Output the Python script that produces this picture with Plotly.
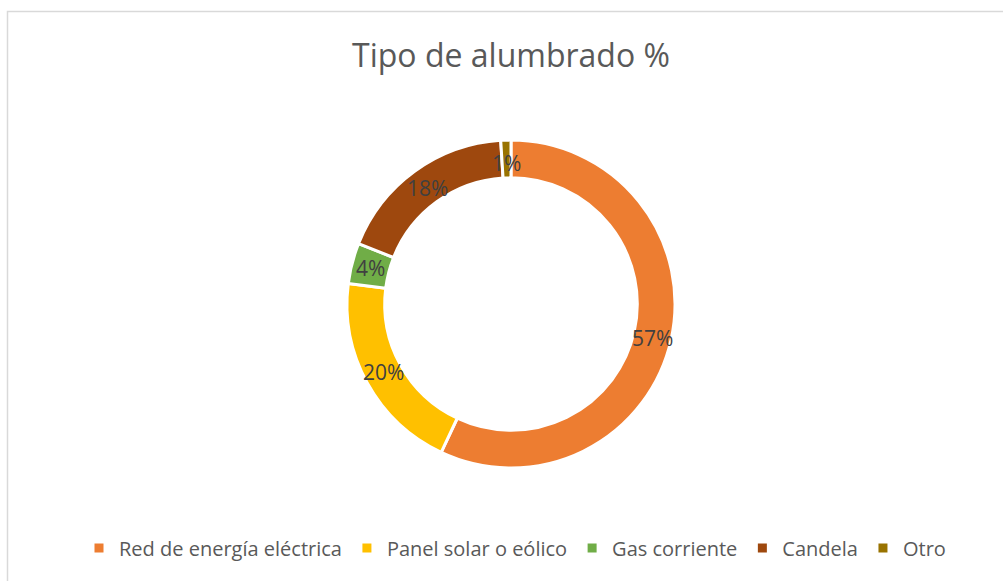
import math
import plotly.graph_objects as go

W, H = 1003, 581
title = "Tipo de alumbrado %"
categories = ["Red de energía eléctrica", "Panel solar o eólico", "Gas corriente", "Candela", "Otro"]
values = [57, 20, 4, 18, 1]
colors = ["#ED7D31", "#FFC000", "#70AD47", "#9E480E", "#997300"]
# small pixel nudges of data labels (as placed in the original chart)
label_shift_x = [0, 0, 0, 2, 0]
label_shift_y = [-2, 2, 0, 15, 12]

FONT = "Open Sans, Noto Sans, sans-serif"
cx, cy, R = 511, 304, 164
hole = 0.77

fig = go.Figure(go.Pie(
    labels=categories, values=values, hole=hole, sort=False,
    direction="clockwise", rotation=0,
    marker=dict(colors=colors, line=dict(color="white", width=3)),
    textinfo="none", hoverinfo="label+percent",
    domain=dict(x=[(cx - R) / W, (cx + R) / W], y=[1 - (cy + R) / H, 1 - (cy - R) / H]),
))

# labels at mid-ring, computed from data
total = sum(values)
cum = 0
rmid = R * (1 + hole) / 2
for v, sx, sy in zip(values, label_shift_x, label_shift_y):
    ang = (cum + v / 2) / total * 2 * math.pi
    cum += v
    px = cx + rmid * math.sin(ang)
    py = cy - rmid * math.cos(ang)
    fig.add_annotation(x=px / W, y=1 - py / H, xref="paper", yref="paper",
                       xshift=sx, yshift=sy,
                       text=f"{v}%", showarrow=False,
                       font=dict(family=FONT, size=21, color="#404040"))

fig.add_shape(type="rect", xref="paper", yref="paper",
              x0=7.5 / W, x1=1.02, y0=-0.02, y1=1 - 11.5 / H,
              line=dict(color="#D9D9D9", width=1.5))

fig.update_layout(
    width=W, height=H, margin=dict(l=0, r=0, t=0, b=0),
    paper_bgcolor="white", plot_bgcolor="white",
    title=dict(text=title, x=511 / W, xanchor="center", y=1 - 56 / H, yanchor="middle",
               font=dict(family=FONT, size=32, color="#595959")),
    legend=dict(orientation="h", x=515 / W, xanchor="center", y=1 - 548 / H, yanchor="middle",
                font=dict(family=FONT, size=20, color="#595959"), itemwidth=30,
                traceorder="normal"),
    showlegend=True,
)
fig.write_html("out.html")
